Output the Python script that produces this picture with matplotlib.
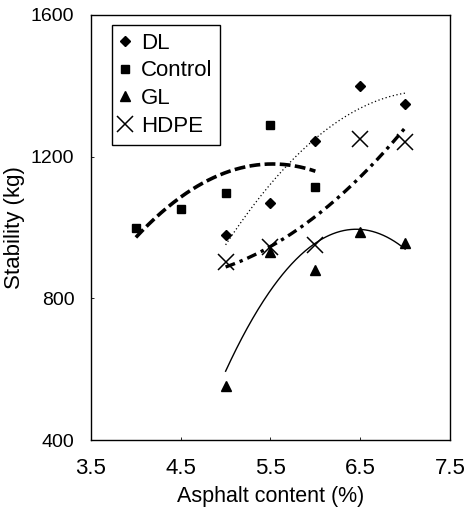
import matplotlib

matplotlib.use("Agg")
import matplotlib.pyplot as plt
import numpy as np

plt.rcParams.update({
    "font.family": ["Liberation Sans", "DejaVu Sans"],
    "font.size": 14,
})

# data
dl_x = [5.0, 5.5, 6.0, 6.5, 7.0]
dl_y = [979, 1069, 1244, 1400, 1349]
control_x = [4.0, 4.5, 5.0, 5.5, 6.0]
control_y = [998, 1053, 1098, 1288, 1114]
gl_x = [5.0, 5.5, 6.0, 6.5, 7.0]
gl_y = [553, 930, 880, 988, 955]
hdpe_x = [5.0, 5.5, 6.0, 6.5, 7.0]
hdpe_y = [902, 946, 951, 1250, 1241]

x_ticks = [3.5, 4.5, 5.5, 6.5, 7.5]
y_ticks = [400, 800, 1200, 1600]


def trend(ax, x, y, **kw):
    coef = np.polyfit(x, y, 2)
    xs = np.linspace(min(x), max(x), 200)
    ax.plot(xs, np.polyval(coef, xs), color="black", **kw)


fig = plt.figure(figsize=(4.70, 5.13), dpi=100)
ax = fig.add_axes([0.1936, 0.1423, 0.7638, 0.8285])

trend(ax, control_x, control_y, lw=2.6, linestyle=(0, (3.0, 1.2)))
trend(ax, dl_x, dl_y, lw=0.9, linestyle=(0, (1, 2)))
trend(ax, gl_x, gl_y, lw=1.0, linestyle="-")
trend(ax, hdpe_x, hdpe_y, lw=2.4, linestyle=(0, (3.0, 1.5, 1.0, 1.5)))

ax.plot(dl_x, dl_y, linestyle="none", marker="D", ms=5, color="black", label="DL")
ax.plot(control_x, control_y, linestyle="none", marker="s", ms=6, color="black", label="Control")
ax.plot(gl_x, gl_y, linestyle="none", marker="^", ms=6.5, color="black", label="GL")
ax.plot(hdpe_x, hdpe_y, linestyle="none", marker="x", ms=11, mew=1.1, color="black", label="HDPE")

ax.set_xlim(3.5, 7.5)
ax.set_ylim(400, 1600)
ax.set_xticks(x_ticks)
ax.set_yticks(y_ticks)
ax.set_xticklabels([f"{v:.1f}" for v in x_ticks])
ax.tick_params(direction="in", length=2, width=0.6)
ax.tick_params(axis="y", pad=12, labelsize=14)
ax.tick_params(axis="x", pad=13, labelsize=16)
for spine in ax.spines.values():
    spine.set_linewidth(1.0)

ax.set_xlabel("Asphalt content (%)", fontsize=15.5, labelpad=5)
ax.set_ylabel("Stability (kg)", fontsize=16, labelpad=4)

leg = ax.legend(loc="upper left", bbox_to_anchor=(0.0585, 0.9765), borderaxespad=0,
                frameon=True, fancybox=False, edgecolor="black", framealpha=1,
                handlelength=0.5, handletextpad=0.45, labelspacing=0.3,
                borderpad=0.35, fontsize=16)
leg.get_frame().set_linewidth(1.0)

fig.savefig("out.png", dpi=100)
